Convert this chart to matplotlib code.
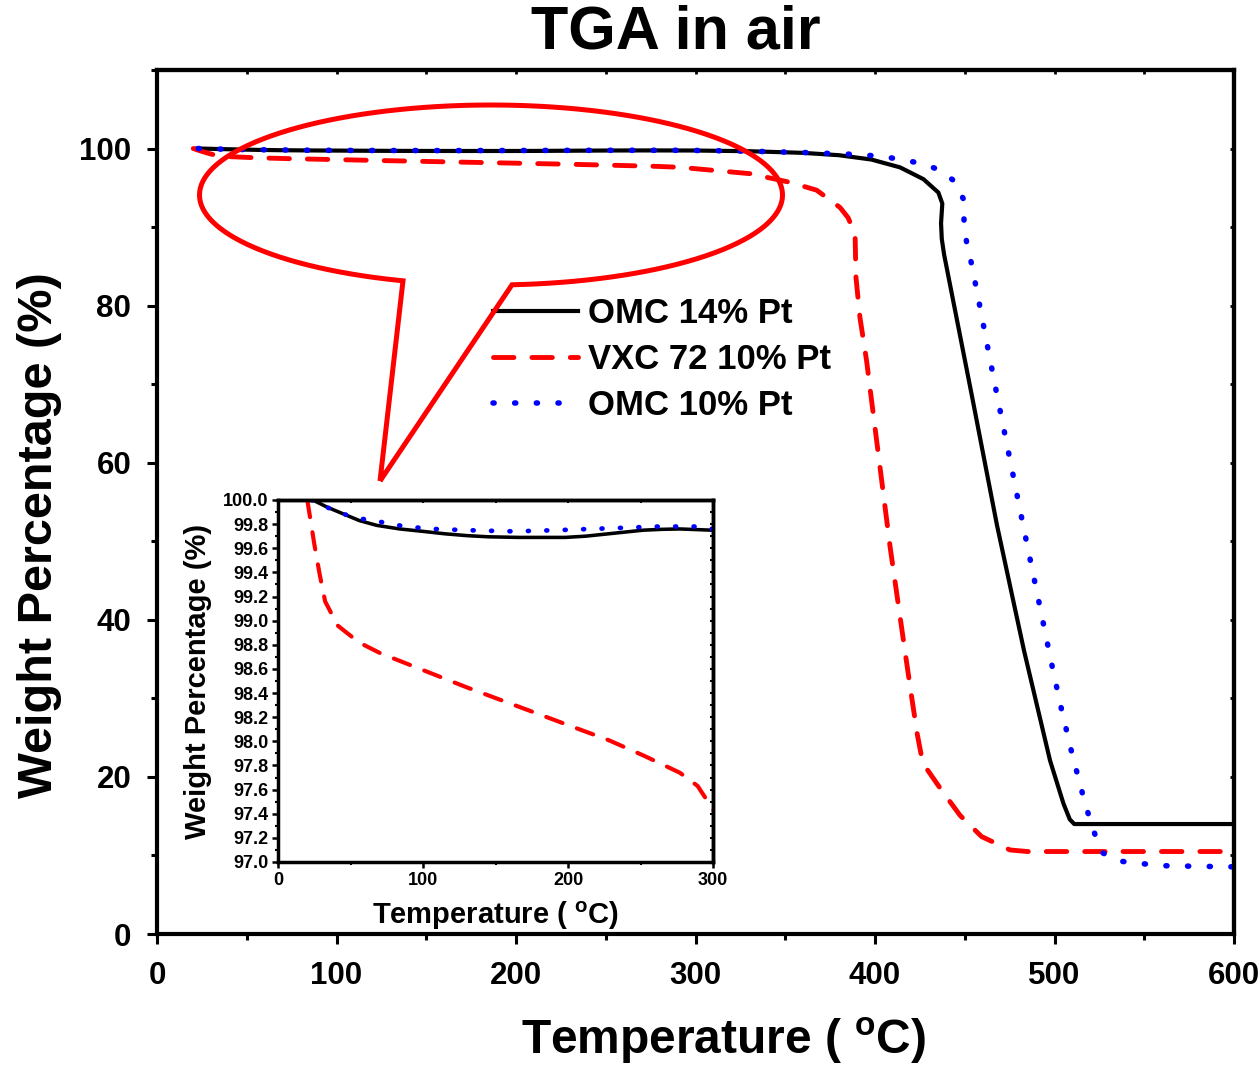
import numpy as np
import matplotlib
matplotlib.use('Agg')
import matplotlib.pyplot as plt
from matplotlib.path import Path
from matplotlib.patches import PathPatch
from matplotlib.ticker import MultipleLocator, FormatStrFormatter

plt.rcParams['font.family'] = ['Liberation Sans', 'DejaVu Sans']
plt.rcParams['font.weight'] = 'bold'
plt.rcParams['mathtext.fontset'] = 'custom'
plt.rcParams['mathtext.rm'] = 'Liberation Sans:bold'
plt.rcParams['mathtext.it'] = 'Liberation Sans:bold'
plt.rcParams['mathtext.bf'] = 'Liberation Sans:bold'

# ---------------- data ----------------
series_names = ['OMC 14% Pt', 'VXC 72 10% Pt', 'OMC 10% Pt']

omc14_T = [22, 24, 34, 44, 56, 68, 84, 100, 115, 130, 145, 166, 185, 198, 212,
           228, 240, 252, 265, 277, 299,
           330, 360, 380, 398, 414, 427, 435.3, 437.5, 436.8, 437.2, 438.5, 454, 468,
           483, 497.5, 505, 508.5, 511, 540, 600]
omc14_W = [100, 100, 99.94, 99.89, 99.83, 99.79, 99.76, 99.74, 99.72, 99.705, 99.695,
           99.69, 99.69, 99.69, 99.70, 99.72, 99.735, 99.75, 99.757, 99.76, 99.75,
           99.66, 99.45, 99.15, 98.6, 97.6, 96.1, 94.4, 93.0,
           90.5, 88.5, 86.5, 68.5, 52.0, 36.1, 22.1, 16.6, 14.6, 14.0, 14.0, 14.0]

vxc72_T = [20.2, 22.6, 25.1, 28.8, 32.5, 41.1, 55.8, 70.6, 100.1, 129.6, 154.2,
           178.8, 203.3, 228, 252.5, 277.1, 289.4, 299.2, 330.4, 352.6, 367.5,
           380.5, 385, 388.9, 389.4, 391.6, 395.3, 398.1, 408.4, 416.7, 420.4,
           423.5, 426, 428, 437.1, 447.4, 459.4, 475.2, 485, 600]
vxc72_W = [100, 99.82, 99.63, 99.38, 99.16, 98.96, 98.82, 98.73, 98.59, 98.45,
           98.34, 98.23, 98.12, 98.01, 97.88, 97.74, 97.63, 97.45, 96.8, 95.7,
           94.7, 92.5, 91.2, 89.1, 83.6, 78.5, 73.0, 67.9, 49.3, 36.0, 30.2,
           25.5, 22.5, 21.3, 18.3, 15.1, 12.4, 10.7, 10.5, 10.5]

omc10_T = [23, 33.7, 43.5, 54.6, 65.6, 87.8, 107.4, 129.6, 162.8, 192.3, 215.6,
           239, 261.1, 280.8, 293, 330, 360, 390.7, 404.6, 415.7, 425.9, 435.7,
           444, 449.2, 449.6, 451.1, 453.8, 458.5, 463.1, 467.8, 483, 498.4,
           503.6, 509.5, 515.9, 519.3, 522.8, 527.1, 535.5, 547.2, 558.8, 571.8, 600]
omc10_W = [100, 99.94, 99.89, 99.85, 99.83, 99.78, 99.76, 99.75, 99.74, 99.75,
           99.76, 99.77, 99.78, 99.78, 99.78, 99.66, 99.5, 99.24, 98.98, 98.55,
           98.1, 97.3, 95.9, 93.6, 90.8, 87.9, 85.3, 79.8, 74.3, 68.8, 51.5, 34.4,
           28.9, 23.2, 17.6, 14.9, 12.5, 10.3, 9.3, 9.0, 8.7, 8.65, 8.55]

main_xticks = [0, 100, 200, 300, 400, 500, 600]
main_yticks = [0, 20, 40, 60, 80, 100]
inset_xticks = [0, 100, 200, 300]

# ---------------- figure ----------------
W, H = 1260, 1069
fig = plt.figure(figsize=(W / 100, H / 100), dpi=100)


def fr(x0, y0, x1, y1):
    return [x0 / W, 1 - y1 / H, (x1 - x0) / W, (y1 - y0) / H]


ax = fig.add_axes(fr(157, 70, 1234, 934))

styles = [
    dict(color='black', lw=3.0, ls='-'),
    dict(color='#ff0000', lw=3.5, dashes=(4.2, 3.7), dash_capstyle='round'),
    dict(color='#0000ff', lw=4.0, dashes=(0.2, 3.7), dash_capstyle='round'),
]
data = [(omc14_T, omc14_W), (vxc72_T, vxc72_W), (omc10_T, omc10_W)]

handles = []
for (t, w), st, name in zip(data, styles, series_names):
    ln, = ax.plot(t, w, label=name, **st)
    handles.append(ln)

ax.set_xlim(0, 600)
ax.set_ylim(0, 110)
ax.set_xticks(main_xticks)
ax.set_yticks(main_yticks)
ax.xaxis.set_minor_locator(MultipleLocator(50))
ax.yaxis.set_minor_locator(MultipleLocator(10))
for s in ax.spines.values():
    s.set_linewidth(3)
ax.tick_params(which='major', direction='out', length=7.5, width=2.2, labelsize=22.5)
ax.tick_params(which='minor', direction='out', length=4.5, width=2.2)
ax.tick_params(axis='x', which='major', pad=12)
ax.tick_params(axis='y', which='major', pad=11)

sec = ax.secondary_xaxis('top')
sec.set_xticks(main_xticks)
sec.xaxis.set_minor_locator(MultipleLocator(50))
sec.tick_params(which='both', direction='in', length=3, width=2, labeltop=False)
sec.spines['top'].set_linewidth(3)
secy = ax.secondary_yaxis('right')
secy.set_yticks(main_yticks)
secy.yaxis.set_minor_locator(MultipleLocator(10))
secy.tick_params(which='both', direction='in', length=3, width=2, labelright=False)
secy.spines['right'].set_linewidth(3)

ax.set_xlabel(r'Temperature ( $^{o}$C)', fontsize=34.5, fontweight='bold')
ax.xaxis.set_label_coords((723 - 157) / 1077, -0.095)
ax.set_ylabel('Weight Percentage (%)', fontsize=35, fontweight='bold')
ax.yaxis.set_label_coords(-0.088, (934 - 535) / 864)

fig.text(675.5 / W, 1 - 33 / H, 'TGA in air', ha='center', va='center',
         fontsize=44, fontweight='bold')

ax.legend(handles, series_names, loc='upper left',
          bbox_to_anchor=(493 / W, 1 - 297 / H), bbox_transform=fig.transFigure,
          frameon=False, fontsize=25, handlelength=2.45, handletextpad=0.3,
          labelspacing=0.38, borderpad=0, borderaxespad=0)

# ---------------- inset ----------------
ins = fig.add_axes(fr(278, 500, 713, 862))
for (t, w), st in zip(data, styles):
    st2 = dict(st)
    st2['lw'] = st['lw'] * 0.85
    ins.plot(t, w, **st2)
ins.set_xlim(0, 300)
ins.set_ylim(97.0, 100.0)
ins.set_xticks(inset_xticks)
ins.set_yticks(np.round(np.arange(97.0, 100.01, 0.2), 1))
ins.yaxis.set_major_formatter(FormatStrFormatter('%.1f'))
ins.xaxis.set_minor_locator(MultipleLocator(50))
ins.yaxis.set_minor_locator(MultipleLocator(0.1))
for s in ins.spines.values():
    s.set_linewidth(2.5)
ins.tick_params(which='major', direction='out', length=4.5, width=1.8, labelsize=13, pad=2.5)
ins.tick_params(which='minor', direction='out', length=2.5, width=1.5)
ins.set_xlabel(r'Temperature ( $^{o}$C)', fontsize=21, fontweight='bold')
ins.xaxis.set_label_coords(0.5, -0.105)
ins.set_ylabel('Weight Percentage (%)', fontsize=21, fontweight='bold')
ins.yaxis.set_label_coords(-0.152, 0.5)
isx = ins.secondary_xaxis('top')
isx.set_xticks(inset_xticks)
isx.xaxis.set_minor_locator(MultipleLocator(50))
isx.tick_params(which='both', direction='in', length=2.5, width=1.5, labeltop=False)
isx.spines['top'].set_linewidth(2.5)
isy = ins.secondary_yaxis('right')
isy.set_yticks(np.round(np.arange(97.0, 100.01, 0.2), 1))
isy.yaxis.set_minor_locator(MultipleLocator(0.1))
isy.tick_params(which='both', direction='in', length=2.5, width=1.5, labelright=False)
isy.spines['right'].set_linewidth(2.5)

# ---------------- callout bubble ----------------
cx, cy, a, b = 491, 195, 291.5, 90
t0 = np.arccos((512 - cx) / a)
t1 = np.arccos((403 - cx) / a) - 2 * np.pi
tt = np.linspace(t0, t1, 400)
ex = cx + a * np.cos(tt)
ey = cy + b * np.sin(tt)
px = np.concatenate([[380], ex, [380]])
py = np.concatenate([[481], ey, [481]])
verts = np.column_stack([px / W, 1 - py / H])
patch = PathPatch(Path(verts), transform=fig.transFigure, facecolor='none',
                  edgecolor='#ff0000', lw=3.6, joinstyle='miter', zorder=5)
fig.add_artist(patch)

fig.savefig('out.png', dpi=100)
